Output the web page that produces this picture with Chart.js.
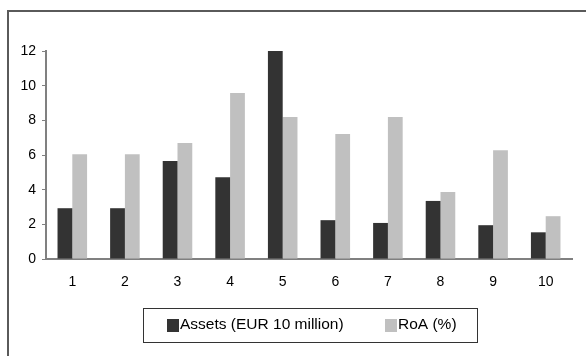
<!DOCTYPE html>
<html>
<head>
<meta charset="utf-8">
<script src="https://cdn.jsdelivr.net/npm/chart.js@4.4.1/dist/chart.umd.min.js"></script>
<style>
  html, body { margin:0; padding:0; background:#fff; }
  #wrap { position:relative; width:586px; height:356px; overflow:hidden; }
  #frame { position:absolute; left:7px; top:10px; width:700px; height:500px;
           border-top:2px solid #5a5a5a; border-left:2px solid #5a5a5a; pointer-events:none; }
  canvas { position:absolute; left:0; top:0; }
</style>
</head>
<body>
<div id="wrap">
  <canvas id="c" width="586" height="356"></canvas>
  <div id="frame"></div>
</div>
<script>
(function(){
  'use strict';

  // data
  const categories = ['1','2','3','4','5','6','7','8','9','10'];
  const assets = [2.93, 2.93, 5.65, 4.72, 12.0, 2.24, 2.08, 3.35, 1.95, 1.54];
  const roa    = [6.05, 6.05, 6.69, 9.58, 8.19, 7.21, 8.19, 3.86, 6.28, 2.47];
  const seriesNames = ['Assets (EUR 10 million)', 'RoA (%)'];
  const yTicks = [0, 2, 4, 6, 8, 10, 12];

  const FONT = 'Liberation Sans, Arial, sans-serif';
  const DARK = '#333333', LIGHT = '#c0c0c0', AXIS = '#808080';

  // legend drawn as an Excel-style framed box
  const boxLegend = {
    id: 'boxLegend',
    afterDraw(chart){
      const ctx = chart.ctx;
      const bx = 143.5, by = 308.5, bw = 334, bh = 34;
      ctx.save();
      ctx.strokeStyle = '#333'; ctx.lineWidth = 1;
      ctx.strokeRect(bx, by, bw, bh);
      ctx.font = '15.5px ' + FONT;
      ctx.textBaseline = 'middle'; ctx.textAlign = 'left';
      const items = [[167, 0], [385, 1]];
      items.forEach(([x, i]) => {
        const ds = chart.data.datasets[i];
        ctx.fillStyle = ds.backgroundColor;
        ctx.fillRect(x, 319, 12, 13);
        ctx.fillStyle = '#000';
        ctx.fillText(ds.label, x + 13, 325);
      });
      ctx.restore();
    }
  };

  new Chart(document.getElementById('c'), {
    type: 'bar',
    data: {
      labels: categories,
      datasets: [
        { label: seriesNames[0], data: assets, backgroundColor: DARK, borderWidth: 0 },
        { label: seriesNames[1], data: roa, backgroundColor: LIGHT, borderWidth: 0 }
      ]
    },
    options: {
      responsive: false, animation: false,
      devicePixelRatio: 1,
      layout: { padding: { top: 51, right: 14, bottom: 0, left: 0 } },
      categoryPercentage: 0.562,
      barPercentage: 1.0,
      plugins: { legend: { display: false }, tooltip: { enabled: false } },
      scales: {
        x: {
          grid: { display: false },
          border: { display: true, color: AXIS, width: 2 },
          ticks: { color: '#000', font: { family: FONT, size: 14 }, padding: 7, maxRotation: 0 },
          afterFit(s){ s.height = 97; }
        },
        y: {
          min: 0, max: 12,
          afterBuildTicks(s){ s.ticks = yTicks.map(v => ({ value: v })); },
          grid: { drawOnChartArea: false, drawTicks: true, tickLength: 4, color: AXIS },
          border: { display: true, color: AXIS, width: 2 },
          ticks: { color: '#000', font: { family: FONT, size: 14 }, padding: 6 },
          afterFit(s){ s.width = 46; }
        }
      }
    },
    plugins: [boxLegend]
  });
})();
</script>
</body>
</html>
